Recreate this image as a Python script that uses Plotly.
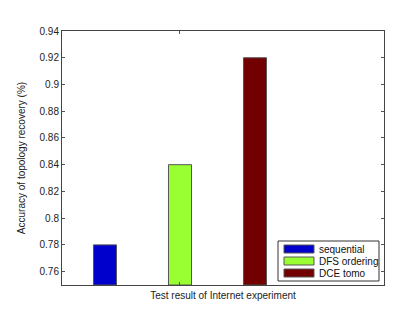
import plotly.graph_objects as go

series = ["sequential", "DFS ordering", "DCE tomo"]
values = [0.78, 0.84, 0.92]
colors = ["#0000CC", "#99FF33", "#730000"]
positions = [-1, 0, 1]
ytick_vals = [0.76, 0.78, 0.80, 0.82, 0.84, 0.86, 0.88, 0.90, 0.92, 0.94]
ytick_text = ["0.76", "0.78", "0.8", "0.82", "0.84", "0.86", "0.88", "0.9", "0.92", "0.94"]

W, H = 415, 313
L, R, T, B = 54, 39, 23, 36
pw, ph = W - L - R, H - T - B


def px(x):
    return (x - L) / pw


def py(y):
    return (H - B - y) / ph


fig = go.Figure()
for name, v, c, p in zip(series, values, colors, positions):
    fig.add_trace(go.Bar(
        x=[p], y=[v - 0.75], base=0.75, name=name, width=0.307,
        marker=dict(color=c, line=dict(color="#555555", width=1)),
        showlegend=False,
    ))

# MATLAB-style legend box
shapes = [dict(type="rect", xref="paper", yref="paper",
               x0=px(270), x1=px(371), y0=py(273), y1=py(233),
               fillcolor="white", line=dict(color="#333333", width=1))]
annotations = []
for i, (name, c) in enumerate(zip(series, colors)):
    cy = 241 + 12 * i
    shapes.append(dict(type="rect", xref="paper", yref="paper",
                       x0=px(276), x1=px(306), y0=py(cy + 4), y1=py(cy - 4),
                       fillcolor=c, line=dict(color="#555555", width=1)))
    annotations.append(dict(xref="paper", yref="paper", x=px(309), y=py(cy),
                            xanchor="left", yanchor="middle", text=name,
                            showarrow=False, font=dict(size=10, color="#111111")))

fig.update_layout(
    width=W, height=H,
    margin=dict(l=L, r=R, t=T, b=B),
    paper_bgcolor="white", plot_bgcolor="white",
    font=dict(family="Liberation Sans, Arial, sans-serif", size=10, color="#222222"),
    shapes=shapes, annotations=annotations,
    xaxis=dict(range=[-1.573, 2.72], tickvals=[0], ticktext=[""], ticks="inside",
               ticklen=3, tickcolor="#555555", showgrid=False, zeroline=False,
               showline=True, linecolor="#444444", linewidth=1, mirror="ticks",
               title=dict(text="Test result of Internet experiment", standoff=4,
                          font=dict(size=10))),
    yaxis=dict(range=[0.75, 0.94], tickvals=ytick_vals, ticktext=ytick_text,
               ticks="inside", ticklen=3, tickcolor="#555555", showgrid=False,
               zeroline=False, showline=True, linecolor="#444444", linewidth=1,
               mirror="ticks",
               title=dict(text="Accuracy of topology recovery (%)", standoff=12,
                          font=dict(size=10))),
)

fig.write_html("out.html")
